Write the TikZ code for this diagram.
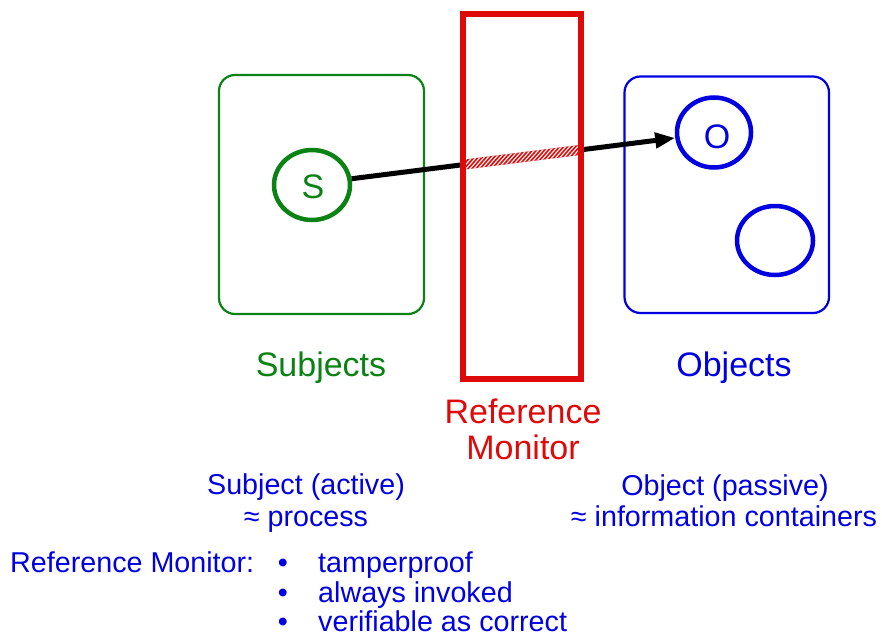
\documentclass[tikz,border=0pt]{standalone}
\usepackage{fontspec}
\setmainfont{Liberation Sans}
\usetikzlibrary{shapes.geometric,arrows.meta,calc}
\definecolor{sgreen}{RGB}{10,130,20}
\definecolor{oblue}{RGB}{0,0,225}
\definecolor{rmred}{RGB}{222,10,10}
\tikzset{
  bigtxt/.style={font=\fontsize{34}{39}\selectfont, inner sep=0pt, anchor=base},
  smalltxt/.style={font=\fontsize{28.7}{32}\selectfont, inner sep=0pt, anchor=base, text=oblue},
  ring/.style={ellipse, line width=4.5pt, inner sep=0pt},
  panel/.style={rounded corners=16pt, line width=2.2pt},
}
\begin{document}
\begin{tikzpicture}[x=1pt,y=-1pt]
\useasboundingbox (0,0) rectangle (882,637);
% panels
\draw[panel, draw=sgreen] (219,75) rectangle (424,314);
\draw[panel, draw=oblue] (624.5,76.5) rectangle (829,313);
% rings
\node[ring, draw=sgreen, minimum width=76pt, minimum height=70pt] (S) at (312,185) {};
\node[bigtxt, anchor=center, text=sgreen] (Sl) at (313,187) {S};
\node[ring, draw=oblue, minimum width=74pt, minimum height=70pt] (O) at (714,132.5) {};
\node[bigtxt, anchor=center, text=oblue] (Ol) at (717,137) {O};
\node[ring, draw=oblue, minimum width=76pt, minimum height=69pt] (O2) at (775,240.5) {};
% access arrow
\draw[line width=5pt, -{Triangle[length=20pt,width=15pt]}] (S.9) -- (O.188);
\coordinate (A) at ($(S.9)!0.345!(O.188)$);
\coordinate (B) at ($(S.9)!0.707!(O.188)$);
\fill[rmred] ($(A)!5pt!90:(B)$) -- ($(B)!5pt!-90:(A)$) -- ($(B)!5pt!90:(A)$) -- ($(A)!5pt!-90:(B)$) -- cycle;
\begin{scope}
  \clip ($(A)!5pt!90:(B)$) -- ($(B)!5pt!-90:(A)$) -- ($(B)!5pt!90:(A)$) -- ($(A)!5pt!-90:(B)$) -- cycle;
  \foreach \i in {420,424,...,600} {
    \draw[white, line width=1.1pt] (\i,180) -- (\i+40,135);
  }
\end{scope}
% reference monitor box
\draw[rmred, line width=6pt] (463,13.7) rectangle (581,378.7);
% labels
\node[bigtxt, text=sgreen] (subj) at (321,376) {Subjects};
\node[bigtxt, text=oblue] (obj) at (734,376) {Objects};
\node[bigtxt, text=rmred] (rm1) at (523,423) {Reference};
\node[bigtxt, text=rmred] (rm2) at (523,459) {Monitor};
\node[smalltxt] (sa) at (306,494) {Subject (active)};
\node[smalltxt] (sp) at (306,526) {≈ process};
\node[smalltxt] (oa) at (725,495) {Object (passive)};
\node[smalltxt] (op) at (724,526) {≈ information containers};
\node[smalltxt, anchor=base west] (rml) at (10,572) {Reference Monitor:};
\node[smalltxt] (b1) at (283,572) {•};
\node[smalltxt] (b2) at (283,602) {•};
\node[smalltxt] (b3) at (283,631) {•};
\node[smalltxt, anchor=base west] (t1) at (318,572) {tamperproof};
\node[smalltxt, anchor=base west] (t2) at (318,602) {always invoked};
\node[smalltxt, anchor=base west] (t3) at (318,631) {verifiable as correct};
\end{tikzpicture}
\end{document}
